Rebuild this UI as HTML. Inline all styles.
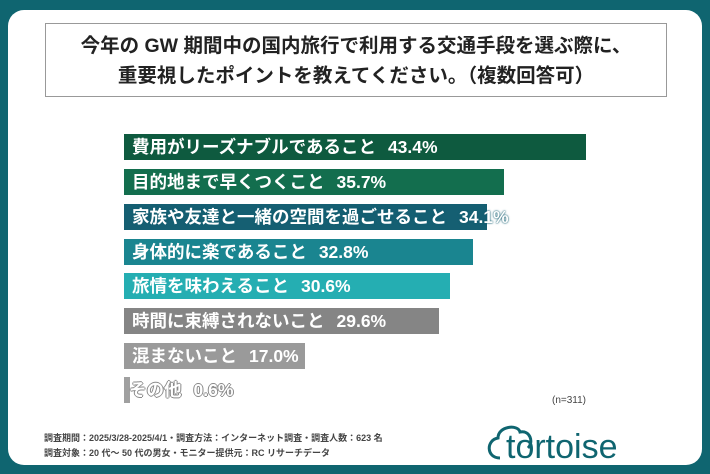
<!DOCTYPE html><html><head><meta charset="utf-8"><style>
body{margin:0;width:710px;height:474px;background:#0f6570;position:relative;overflow:hidden;font-family:"Liberation Sans","Noto Sans CJK JP",sans-serif}
.card{position:absolute;left:8px;top:10px;width:694px;height:455px;background:#fff;border-radius:16px}
.title{position:absolute;left:45px;top:23px;width:622px;height:74px;border:1.5px solid #999;box-sizing:border-box;text-align:center;font-weight:bold;font-size:19.5px;line-height:30px;padding-top:7px;color:#222}
.bar{position:absolute;left:124px;height:26px;color:#fff;font-weight:bold;font-size:17.5px;line-height:26px;padding-left:8px;box-sizing:border-box;white-space:nowrap}
.bar b{margin-left:12px}
.note{position:absolute;font-size:9px;color:#444;font-weight:bold}
</style></head><body>
<div class="card"></div>
<div class="title">今年の GW 期間中の国内旅行で利用する交通手段を選ぶ際に、<br>重要視したポイントを教えてください。（複数回答可）</div>
<div class="bar" style="top:134px;width:462px;background:#0e5a3f">費用がリーズナブルであること<b>43.4%</b></div>
<div class="bar" style="top:169px;width:380px;background:#136e4e">目的地まで早くつくこと<b>35.7%</b></div>
<div class="bar" style="top:204px;width:363px;background:#155f72;text-shadow:0 0 2px #155f72,0 0 1px #155f72">家族や友達と一緒の空間を過ごせること<b>34.1%</b></div>
<div class="bar" style="top:239px;width:349px;background:#1a8590">身体的に楽であること<b>32.8%</b></div>
<div class="bar" style="top:273px;width:326px;background:#25aeb2">旅情を味わえること<b>30.6%</b></div>
<div class="bar" style="top:308px;width:315px;background:#858585">時間に束縛されないこと<b>29.6%</b></div>
<div class="bar" style="top:343px;width:181px;background:#9a9a9a">混まないこと<b>17.0%</b></div>
<div class="bar" style="top:377px;width:6px;background:#a0a0a0;overflow:visible;padding-left:5px;text-shadow:1px 0 #888,-1px 0 #888,0 1px #888,0 -1px #888">その他<b>0.6%</b></div>
<div class="note" style="left:552px;top:395px;font-weight:normal;font-size:10px">(n=311)</div>
<div class="note" style="left:44px;top:431px">調査期間：2025/3/28-2025/4/1・調査方法：インターネット調査・調査人数：623 名</div>
<div class="note" style="left:44px;top:446px">調査対象：20 代～ 50 代の男女・モニター提供元：RC リサーチデータ</div>
<svg style="position:absolute;left:484px;top:418px" width="190" height="50">
<path d="M16 40 C2 40 2 22 14 20 C14 8 34 6 36 14 C46 12 50 24 44 30" fill="none" stroke="#0f6570" stroke-width="3"/>
<text x="22" y="40" font-family="Liberation Sans,sans-serif" font-size="34" fill="#0f6570">tortoise</text>
</svg>
</body></html>
